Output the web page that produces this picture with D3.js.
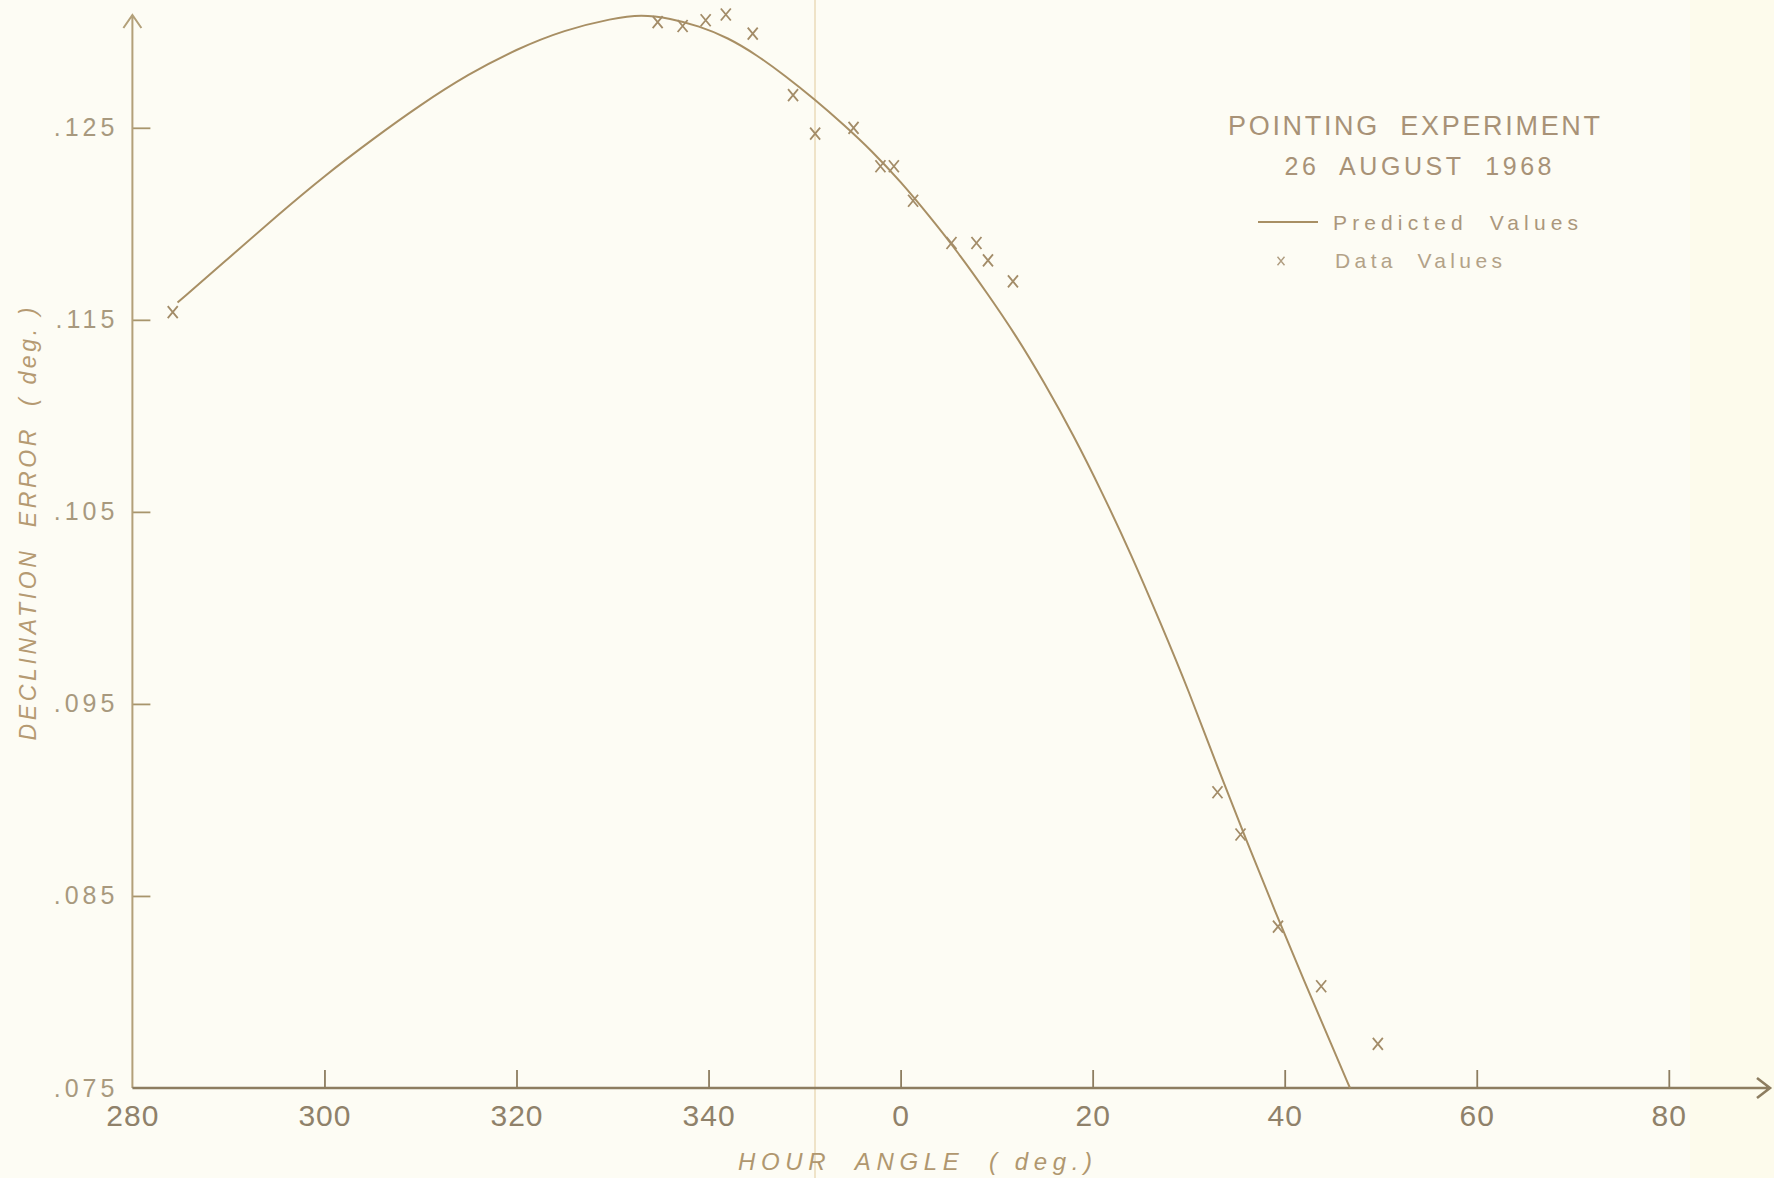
<!DOCTYPE html>
<html>
<head>
<meta charset="utf-8">
<script src="https://cdn.jsdelivr.net/npm/d3@7"></script>
<style>
  body { margin: 0; background: #fdfcf4; }
  svg { display: block; }
  text { font-family: "Liberation Sans", "DejaVu Sans", sans-serif; }
</style>
</head>
<body>
<svg id="chart" width="1774" height="1178"></svg>
<script>
// axis ticks (hour angle runs past 360, so 380 is labelled 20 etc.)
var hourTicks = [280, 300, 320, 340, 360, 380, 400, 420, 440];
var hourLabels = ["280", "300", "320", "340", "0", "20", "40", "60", "80"];
var errTicks = [0.075, 0.085, 0.095, 0.105, 0.115, 0.125];
var errLabels = [".075", ".085", ".095", ".105", ".115", ".125"];

// predicted values (curve)
var predHour = [284.7, 290, 295, 300, 305, 310, 315, 320, 325, 330,
                333, 336, 339, 342, 345, 348, 351, 354, 357, 360,
                363, 366, 369, 372, 375, 378, 381, 384, 387, 390,
                393, 396, 399, 402, 405, 406.8];
var predErr = [0.1159, 0.1182, 0.1204, 0.1225, 0.1244, 0.1262, 0.1278, 0.1291, 0.1301, 0.1307,
               0.1309, 0.1307, 0.1303, 0.1297, 0.1288, 0.1277, 0.1265, 0.1252, 0.1238, 0.1222,
               0.1204, 0.1185, 0.1164, 0.1142, 0.1117, 0.1090, 0.1060, 0.1028, 0.0993, 0.0957,
               0.0917, 0.0879, 0.0842, 0.0806, 0.0771, 0.0750];

// data values (x marks)
var dataHour = [284.2, 334.7, 337.3, 339.7, 341.8, 344.6, 348.8, 351.1, 355.1, 357.9,
                359.3, 361.3, 365.3, 367.9, 369.1, 371.7, 393.0, 395.4, 399.3, 403.8, 409.7];
var dataErr = [0.1154, 0.1305, 0.1303, 0.1306, 0.1309, 0.1299, 0.1267, 0.1247, 0.1250, 0.1230,
               0.1230, 0.1212, 0.1190, 0.1190, 0.1181, 0.1170, 0.0904, 0.0882, 0.0834, 0.0803, 0.0773];

var svg = d3.select("#chart");

// scales
var x = d3.scaleLinear().domain([280, 440]).range([132.4, 1668.8]);
var y = d3.scaleLinear().domain([0.075, 0.125]).range([1088, 127.8]);

// paper background + fold line
svg.append("rect").attr("width", 1774).attr("height", 1178).attr("fill", "#fdfcf4");
svg.append("rect").attr("x", 1690).attr("width", 84).attr("height", 1178).attr("fill", "#fdfbec");
svg.append("line")
    .attr("x1", 815).attr("x2", 815).attr("y1", 0).attr("y2", 1178)
    .attr("stroke", "#efe3c8").attr("stroke-width", 2);

// x axis
var xAxis = d3.axisBottom(x)
    .tickValues(hourTicks)
    .tickFormat(function(d, i) { return hourLabels[i]; })
    .tickSizeInner(-18).tickSizeOuter(0).tickPadding(17);

var gx = svg.append("g").attr("transform", "translate(0," + y(0.075) + ")").call(xAxis);
gx.select(".domain").remove();
gx.selectAll(".tick line").attr("stroke", "#8d7d60").attr("stroke-width", 1.8);
gx.selectAll(".tick text")
    .attr("fill", "#8f816a").style("font-size", "30px").style("letter-spacing", "1px");
// no tick at the origin
gx.selectAll(".tick").filter(function(d) { return d == 280; }).select("line").remove();

// y axis
var yAxis = d3.axisLeft(y)
    .tickValues(errTicks)
    .tickFormat(function(d, i) { return errLabels[i]; })
    .tickSizeInner(-18).tickSizeOuter(0).tickPadding(14);

var gy = svg.append("g").attr("transform", "translate(" + x(280) + ",0)").call(yAxis);
gy.select(".domain").remove();
gy.selectAll(".tick line").attr("stroke", "#a8956c").attr("stroke-width", 1.8);
gy.selectAll(".tick").filter(function(d) { return d == 0.075; }).select("line").remove();
gy.selectAll(".tick text")
    .attr("fill", "#a8997e").style("font-size", "25px").style("letter-spacing", "4px");

// axis lines with open arrow heads
var x0 = x(280), y0 = y(0.075);
svg.append("path")
    .attr("d", "M" + x0 + "," + y0 + "V15 M" + (x0 - 9) + ",28 L" + x0 + ",15 L" + (x0 + 9) + ",28")
    .attr("fill", "none").attr("stroke", "#b3a079").attr("stroke-width", 2);
svg.append("path")
    .attr("d", "M" + x0 + "," + y0 + "H1770 M1757," + (y0 - 10) + " L1770," + y0 + " L1757," + (y0 + 10))
    .attr("fill", "none").attr("stroke", "#8d7d60").attr("stroke-width", 2.6);

// predicted curve
var pred = predHour.map(function(h, i) { return [h, predErr[i]]; });
var line = d3.line()
    .x(function(d) { return x(d[0]); })
    .y(function(d) { return y(d[1]); })
    .curve(d3.curveBasis);

svg.append("path")
    .datum(pred)
    .attr("d", line)
    .attr("fill", "none")
    .attr("stroke", "#a88f64")
    .attr("stroke-width", 2);

// data marks
var pts = dataHour.map(function(h, i) { return [h, dataErr[i]]; });
var cross = function(cx, cy, s) {
    return "M" + (cx - s) + "," + (cy - s * 1.2) + "L" + (cx + s) + "," + (cy + s * 1.2) +
           "M" + (cx + s) + "," + (cy - s * 1.2) + "L" + (cx - s) + "," + (cy + s * 1.2);
};
svg.append("g").selectAll("path")
    .data(pts)
    .enter().append("path")
    .attr("d", function(d) { return cross(x(d[0]), y(d[1]), 5); })
    .attr("fill", "none")
    .attr("stroke", "#a38c68")
    .attr("stroke-width", 1.8);

// axis titles
svg.append("text")
    .attr("x", 738).attr("y", 1170)
    .attr("textLength", 354).attr("lengthAdjust", "spacing")
    .attr("fill", "#b0976f").style("font-size", "24px").style("font-style", "italic")
    .style("white-space", "pre")
    .text("HOUR  ANGLE  ( deg.)");

svg.append("text")
    .attr("transform", "translate(36,524) rotate(-90)")
    .attr("text-anchor", "middle")
    .attr("textLength", 433).attr("lengthAdjust", "spacing")
    .attr("fill", "#b59a72").style("font-size", "23px").style("font-style", "italic")
    .style("white-space", "pre")
    .text("DECLINATION  ERROR  ( deg. )");

// title block
svg.append("text")
    .attr("x", 1414).attr("y", 135).attr("text-anchor", "middle")
    .attr("textLength", 372).attr("lengthAdjust", "spacing")
    .attr("fill", "#a89277").style("font-size", "27px")
    .style("white-space", "pre")
    .text("POINTING  EXPERIMENT");

svg.append("text")
    .attr("x", 1418).attr("y", 175).attr("text-anchor", "middle")
    .attr("textLength", 267).attr("lengthAdjust", "spacing")
    .attr("fill", "#a89277").style("font-size", "25px")
    .style("white-space", "pre")
    .text("26  AUGUST  1968");

// legend
svg.append("line")
    .attr("x1", 1258).attr("x2", 1318).attr("y1", 222).attr("y2", 222)
    .attr("stroke", "#a88f64").attr("stroke-width", 1.8);
svg.append("text")
    .attr("x", 1333).attr("y", 230)
    .attr("textLength", 245).attr("lengthAdjust", "spacing")
    .attr("fill", "#ab977c").style("font-size", "21px")
    .style("white-space", "pre")
    .text("Predicted  Values");

svg.append("path")
    .attr("d", cross(1281, 261, 3.5))
    .attr("fill", "none").attr("stroke", "#b09d80").attr("stroke-width", 1.4);
svg.append("text")
    .attr("x", 1335).attr("y", 268)
    .attr("textLength", 167).attr("lengthAdjust", "spacing")
    .attr("fill", "#b3a288").style("font-size", "21px")
    .style("white-space", "pre")
    .text("Data  Values");
</script>
</body>
</html>
